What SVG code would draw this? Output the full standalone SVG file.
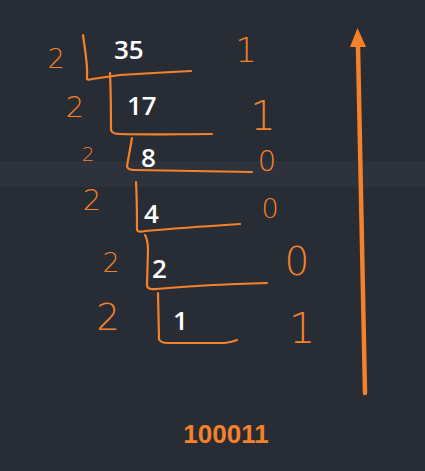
<svg xmlns="http://www.w3.org/2000/svg" width="425" height="471" viewBox="0 0 425 471">
<style>
.num{font-family:"Open Sans","DejaVu Sans",sans-serif;font-weight:600;font-size:26px;fill:#ffffff}
.hw{font-family:"DejaVu Sans","Liberation Sans",sans-serif;font-weight:200;fill:#f5822a;text-anchor:middle}
.br{fill:none;stroke:#f5822a;stroke-width:2.2;stroke-linecap:round;stroke-linejoin:round}
.res{font-family:"Liberation Sans","Open Sans",sans-serif;font-weight:bold;font-size:26px;fill:#f5822a;text-anchor:middle}
</style>
<rect width="425" height="471" fill="#282c34"/>
<rect x="0" y="161" width="425" height="26" fill="#2e323c"/>
<g id="row1">
<text class="hw" x="56" y="68" font-size="27">2</text>
<path class="br" d="M83,35 C85,50 88,65 87,77 Q86,81 92,79 L120,75 C150,73 170,72 191,71"/>
<text class="num" x="114" y="59">35</text>
<text class="hw" x="246" y="62" font-size="34">1</text>
</g>
<g id="row2">
<text class="hw" x="75" y="117" font-size="29">2</text>
<path class="br" d="M110,73 C111,95 111,115 111,130 Q112,134 120,134 C150,135 180,134 212,134"/>
<text class="num" x="127" y="115">17</text>
<text class="hw" x="263" y="130" font-size="40">1</text>
</g>
<g id="row3">
<text class="hw" x="88" y="161" font-size="20">2</text>
<path class="br" d="M132,138 C130,150 128,160 127,166 Q127,170 135,170 L252,172"/>
<text class="num" x="141" y="167">8</text>
<text class="hw" x="267" y="171" font-size="29">0</text>
</g>
<g id="row4">
<text class="hw" x="92" y="210" font-size="29">2</text>
<path class="br" d="M136,182 C137,200 137,215 137,229 Q137,233 145,231 C180,228 210,226 240,224"/>
<text class="num" x="144" y="223">4</text>
<text class="hw" x="270" y="218" font-size="27">0</text>
</g>
<g id="row5">
<text class="hw" x="111" y="272" font-size="27">2</text>
<path class="br" d="M145,235 Q148,240 148,250 L147,285 Q147,290 156,289 C190,286 230,284 267,283"/>
<text class="num" x="152" y="278">2</text>
<text class="hw" x="297" y="275" font-size="39">0</text>
</g>
<g id="row6">
<text class="hw" x="108" y="330" font-size="37">2</text>
<path class="br" d="M158,293 L159,339 Q160,343 168,343 L225,343 Q232,342 237,340"/>
<text class="num" x="173" y="330">1</text>
<text class="hw" x="302" y="343" font-size="42">1</text>
</g>
<g id="connectors">
<line x1="365" y1="393" x2="358" y2="47" stroke="#f5822a" stroke-width="4.5" stroke-linecap="round"/>
<path d="M357.5,28 L366,47 L350,47 Z" fill="#f5822a"/>
</g>
<g id="result">
<text class="res" x="226" y="443">100011</text>
</g>
</svg>
